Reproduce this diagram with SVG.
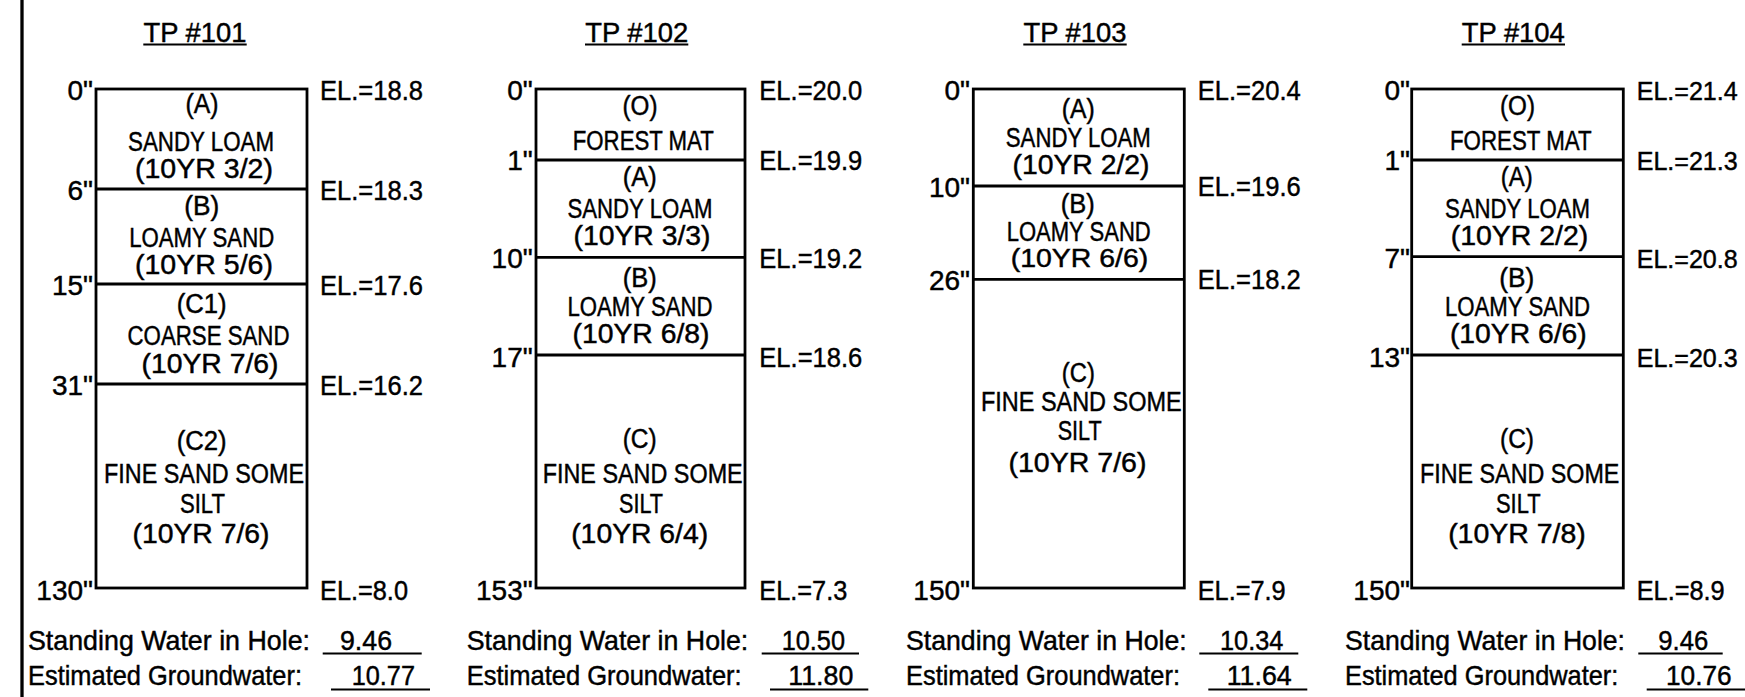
<svg xmlns="http://www.w3.org/2000/svg" width="1745" height="697" viewBox="0 0 1745 697">
<style>
.t{font-family:"Liberation Sans",Arial,sans-serif;font-size:28px;fill:#000;stroke:#000;stroke-width:0.45}
.b{font-size:27px}
.s{font-size:26.5px}
.m{text-anchor:middle}
.e{text-anchor:end}
.ln{stroke:#000;stroke-width:2.8;fill:none}
.ul{stroke:#000;stroke-width:2;fill:none}
</style>
<rect x="0" y="0" width="1745" height="697" fill="#fff"/>
<line class="ln" x1="22" y1="0" x2="22" y2="697" style="stroke-width:3.3"/>

<g id="tp101">
<text class="t m" x="195" y="41.5" textLength="103" lengthAdjust="spacingAndGlyphs">TP #101</text>
<line class="ul" x1="143.3" y1="44.5" x2="246.7" y2="44.5"/>
<rect class="ln" x="96" y="89" width="211" height="499"/>
<line class="ln" x1="96" y1="189" x2="307" y2="189"/>
<line class="ln" x1="96" y1="284" x2="307" y2="284"/>
<line class="ln" x1="96" y1="384" x2="307" y2="384"/>
<text class="t e" x="93" y="100">0"</text>
<text class="t e" x="93" y="200">6"</text>
<text class="t e" x="93" y="295">15"</text>
<text class="t e" x="93" y="394.5">31"</text>
<text class="t e" x="93" y="599.5">130"</text>
<text class="t" x="320" y="99.5" textLength="103" lengthAdjust="spacingAndGlyphs">EL.=18.8</text>
<text class="t" x="320" y="200" textLength="103" lengthAdjust="spacingAndGlyphs">EL.=18.3</text>
<text class="t" x="320" y="295" textLength="103" lengthAdjust="spacingAndGlyphs">EL.=17.6</text>
<text class="t" x="320" y="394.5" textLength="103" lengthAdjust="spacingAndGlyphs">EL.=16.2</text>
<text class="t" x="320" y="599.5" textLength="88" lengthAdjust="spacingAndGlyphs">EL.=8.0</text>
<text class="t b m" x="202" y="113" textLength="33" lengthAdjust="spacingAndGlyphs">(A)</text>
<text class="t b m" x="201" y="150.7" textLength="146" lengthAdjust="spacingAndGlyphs">SANDY LOAM</text>
<text class="t b m" x="204" y="178" textLength="138" lengthAdjust="spacingAndGlyphs">(10YR 3/2)</text>
<text class="t b m" x="201.7" y="215" textLength="35" lengthAdjust="spacingAndGlyphs">(B)</text>
<text class="t b m" x="201.7" y="247" textLength="145" lengthAdjust="spacingAndGlyphs">LOAMY SAND</text>
<text class="t b m" x="204" y="274" textLength="138" lengthAdjust="spacingAndGlyphs">(10YR 5/6)</text>
<text class="t b m" x="201.7" y="313" textLength="50" lengthAdjust="spacingAndGlyphs">(C1)</text>
<text class="t b m" x="208.5" y="345" textLength="162" lengthAdjust="spacingAndGlyphs">COARSE SAND</text>
<text class="t b m" x="210" y="373" textLength="137" lengthAdjust="spacingAndGlyphs">(10YR 7/6)</text>
<text class="t b m" x="201.7" y="450" textLength="50" lengthAdjust="spacingAndGlyphs">(C2)</text>
<text class="t b m" x="204" y="482.7" textLength="200" lengthAdjust="spacingAndGlyphs">FINE SAND SOME</text>
<text class="t b m" x="202.5" y="512.7" textLength="45" lengthAdjust="spacingAndGlyphs">SILT</text>
<text class="t b m" x="201" y="543" textLength="137" lengthAdjust="spacingAndGlyphs">(10YR 7/6)</text>
<text class="t" x="28" y="650" textLength="282" lengthAdjust="spacingAndGlyphs">Standing Water in Hole:</text>
<text class="t" x="340" y="650" textLength="52" lengthAdjust="spacingAndGlyphs">9.46</text>
<line class="ul" x1="322.7" y1="653.5" x2="421.7" y2="653.5"/>
<text class="t" x="28" y="685" textLength="274" lengthAdjust="spacingAndGlyphs">Estimated Groundwater:</text>
<text class="t" x="351.7" y="685" textLength="63.3" lengthAdjust="spacingAndGlyphs">10.77</text>
<line class="ul" x1="331" y1="689.5" x2="430" y2="689.5"/>
</g>

<g id="tp102">
<text class="t m" x="636.7" y="41.5" textLength="103" lengthAdjust="spacingAndGlyphs">TP #102</text>
<line class="ul" x1="585" y1="44.5" x2="688.3" y2="44.5"/>
<rect class="ln" x="536" y="89" width="209" height="499"/>
<line class="ln" x1="536" y1="160" x2="745" y2="160"/>
<line class="ln" x1="536" y1="257.3" x2="745" y2="257.3"/>
<line class="ln" x1="536" y1="355" x2="745" y2="355"/>
<text class="t e" x="532.7" y="100">0"</text>
<text class="t e" x="532.7" y="170">1"</text>
<text class="t e" x="532.7" y="268">10"</text>
<text class="t e" x="532.7" y="366.7">17"</text>
<text class="t e" x="532.7" y="599.5">153"</text>
<text class="t" x="759.3" y="99.5" textLength="103" lengthAdjust="spacingAndGlyphs">EL.=20.0</text>
<text class="t" x="759.3" y="170" textLength="103" lengthAdjust="spacingAndGlyphs">EL.=19.9</text>
<text class="t" x="759.3" y="267.7" textLength="103" lengthAdjust="spacingAndGlyphs">EL.=19.2</text>
<text class="t" x="759.3" y="366.7" textLength="103" lengthAdjust="spacingAndGlyphs">EL.=18.6</text>
<text class="t" x="759.3" y="599.5" textLength="88" lengthAdjust="spacingAndGlyphs">EL.=7.3</text>
<text class="t b m" x="640" y="115" textLength="35" lengthAdjust="spacingAndGlyphs">(O)</text>
<text class="t b m" x="643.3" y="150" textLength="141" lengthAdjust="spacingAndGlyphs">FOREST MAT</text>
<text class="t b m" x="639.7" y="186" textLength="34" lengthAdjust="spacingAndGlyphs">(A)</text>
<text class="t b m" x="640" y="218.3" textLength="145" lengthAdjust="spacingAndGlyphs">SANDY LOAM</text>
<text class="t b m" x="642" y="245" textLength="137" lengthAdjust="spacingAndGlyphs">(10YR 3/3)</text>
<text class="t b m" x="639.7" y="286.7" textLength="34" lengthAdjust="spacingAndGlyphs">(B)</text>
<text class="t b m" x="640" y="316" textLength="145" lengthAdjust="spacingAndGlyphs">LOAMY SAND</text>
<text class="t b m" x="641" y="343.3" textLength="137" lengthAdjust="spacingAndGlyphs">(10YR 6/8)</text>
<text class="t b m" x="639.7" y="448.3" textLength="34" lengthAdjust="spacingAndGlyphs">(C)</text>
<text class="t b m" x="642.7" y="482.7" textLength="200" lengthAdjust="spacingAndGlyphs">FINE SAND SOME</text>
<text class="t b m" x="641" y="512.7" textLength="44" lengthAdjust="spacingAndGlyphs">SILT</text>
<text class="t b m" x="639.7" y="543.3" textLength="137" lengthAdjust="spacingAndGlyphs">(10YR 6/4)</text>
<text class="t" x="466.7" y="650" textLength="281.6" lengthAdjust="spacingAndGlyphs">Standing Water in Hole:</text>
<text class="t" x="781.7" y="650" textLength="63.3" lengthAdjust="spacingAndGlyphs">10.50</text>
<line class="ul" x1="761.7" y1="653.5" x2="859" y2="653.5"/>
<text class="t" x="466.7" y="685" textLength="275" lengthAdjust="spacingAndGlyphs">Estimated Groundwater:</text>
<text class="t" x="788.3" y="685" textLength="65" lengthAdjust="spacingAndGlyphs">11.80</text>
<line class="ul" x1="770" y1="689.5" x2="868.3" y2="689.5"/>
</g>

<g id="tp103">
<text class="t m" x="1075" y="41.5" textLength="103" lengthAdjust="spacingAndGlyphs">TP #103</text>
<line class="ul" x1="1023.3" y1="44.5" x2="1126.7" y2="44.5"/>
<rect class="ln" x="973.3" y="89" width="211" height="499"/>
<line class="ln" x1="973.3" y1="186" x2="1184.3" y2="186"/>
<line class="ln" x1="973.3" y1="279.3" x2="1184.3" y2="279.3"/>
<text class="t e" x="970" y="100">0"</text>
<text class="t e" x="970" y="197.3">10"</text>
<text class="t e" x="970" y="290">26"</text>
<text class="t e" x="970" y="599.5">150"</text>
<text class="t" x="1197.7" y="99.5" textLength="103" lengthAdjust="spacingAndGlyphs">EL.=20.4</text>
<text class="t" x="1197.7" y="196" textLength="103" lengthAdjust="spacingAndGlyphs">EL.=19.6</text>
<text class="t" x="1197.7" y="289.3" textLength="103" lengthAdjust="spacingAndGlyphs">EL.=18.2</text>
<text class="t" x="1197.7" y="599.5" textLength="88" lengthAdjust="spacingAndGlyphs">EL.=7.9</text>
<text class="t b m" x="1078.3" y="118" textLength="33" lengthAdjust="spacingAndGlyphs">(A)</text>
<text class="t b m" x="1078.3" y="146.7" textLength="145" lengthAdjust="spacingAndGlyphs">SANDY LOAM</text>
<text class="t b m" x="1081" y="174" textLength="137" lengthAdjust="spacingAndGlyphs">(10YR 2/2)</text>
<text class="t b m" x="1077.8" y="213.3" textLength="34" lengthAdjust="spacingAndGlyphs">(B)</text>
<text class="t b m" x="1078.7" y="241.2" textLength="144" lengthAdjust="spacingAndGlyphs">LOAMY SAND</text>
<text class="t m" style="font-size:25.5px" x="1079.5" y="267" textLength="137.6" lengthAdjust="spacingAndGlyphs">(10YR 6/6)</text>
<text class="t b m" x="1078.3" y="381.7" textLength="33" lengthAdjust="spacingAndGlyphs">(C)</text>
<text class="t b m" x="1081.3" y="411" textLength="200.7" lengthAdjust="spacingAndGlyphs">FINE SAND SOME</text>
<text class="t b m" x="1079.7" y="440" textLength="44" lengthAdjust="spacingAndGlyphs">SILT</text>
<text class="t b m" x="1077.5" y="471.7" textLength="138" lengthAdjust="spacingAndGlyphs">(10YR 7/6)</text>
<text class="t" x="906" y="650" textLength="280.7" lengthAdjust="spacingAndGlyphs">Standing Water in Hole:</text>
<text class="t" x="1220" y="650" textLength="63.3" lengthAdjust="spacingAndGlyphs">10.34</text>
<line class="ul" x1="1199.3" y1="653.5" x2="1298.3" y2="653.5"/>
<text class="t" x="906" y="685" textLength="274" lengthAdjust="spacingAndGlyphs">Estimated Groundwater:</text>
<text class="t" x="1226.7" y="685" textLength="65" lengthAdjust="spacingAndGlyphs">11.64</text>
<line class="ul" x1="1208.3" y1="689.5" x2="1307.3" y2="689.5"/>
</g>

<g id="tp104">
<text class="t m" x="1513.3" y="41.5" textLength="103" lengthAdjust="spacingAndGlyphs">TP #104</text>
<line class="ul" x1="1461.7" y1="44.5" x2="1565" y2="44.5"/>
<rect class="ln" x="1411.7" y="89" width="211.6" height="499"/>
<line class="ln" x1="1411.7" y1="160" x2="1623.3" y2="160"/>
<line class="ln" x1="1411.7" y1="256.7" x2="1623.3" y2="256.7"/>
<line class="ln" x1="1411.7" y1="355" x2="1623.3" y2="355"/>
<text class="t e" x="1410" y="100">0"</text>
<text class="t e" x="1410" y="170">1"</text>
<text class="t e" x="1410" y="268.3">7"</text>
<text class="t e" x="1410" y="366.7">13"</text>
<text class="t e" x="1410" y="599.5">150"</text>
<text class="t s" x="1636.7" y="99.5" textLength="101" lengthAdjust="spacingAndGlyphs">EL.=21.4</text>
<text class="t s" x="1636.7" y="170" textLength="101" lengthAdjust="spacingAndGlyphs">EL.=21.3</text>
<text class="t s" x="1636.7" y="267.7" textLength="101" lengthAdjust="spacingAndGlyphs">EL.=20.8</text>
<text class="t s" x="1636.7" y="366.7" textLength="101" lengthAdjust="spacingAndGlyphs">EL.=20.3</text>
<text class="t" x="1636.7" y="599.5" textLength="88" lengthAdjust="spacingAndGlyphs">EL.=8.9</text>
<text class="t b m" x="1517.5" y="115" textLength="35" lengthAdjust="spacingAndGlyphs">(O)</text>
<text class="t b m" x="1520.8" y="150" textLength="141.7" lengthAdjust="spacingAndGlyphs">FOREST MAT</text>
<text class="t b m" x="1516.7" y="186" textLength="32" lengthAdjust="spacingAndGlyphs">(A)</text>
<text class="t b m" x="1517.5" y="218.3" textLength="145" lengthAdjust="spacingAndGlyphs">SANDY LOAM</text>
<text class="t b m" x="1519.5" y="245" textLength="137.6" lengthAdjust="spacingAndGlyphs">(10YR 2/2)</text>
<text class="t b m" x="1516.7" y="286.7" textLength="35" lengthAdjust="spacingAndGlyphs">(B)</text>
<text class="t b m" x="1517.5" y="316" textLength="145" lengthAdjust="spacingAndGlyphs">LOAMY SAND</text>
<text class="t b m" x="1518.3" y="343.3" textLength="136.7" lengthAdjust="spacingAndGlyphs">(10YR 6/6)</text>
<text class="t b m" x="1517" y="448.3" textLength="34" lengthAdjust="spacingAndGlyphs">(C)</text>
<text class="t b m" x="1519.7" y="482.7" textLength="199.3" lengthAdjust="spacingAndGlyphs">FINE SAND SOME</text>
<text class="t b m" x="1518.3" y="512.7" textLength="44.7" lengthAdjust="spacingAndGlyphs">SILT</text>
<text class="t b m" x="1517" y="543.3" textLength="137.7" lengthAdjust="spacingAndGlyphs">(10YR 7/8)</text>
<text class="t" x="1345" y="650" textLength="280" lengthAdjust="spacingAndGlyphs">Standing Water in Hole:</text>
<text class="t" x="1658.3" y="650" textLength="50" lengthAdjust="spacingAndGlyphs">9.46</text>
<line class="ul" x1="1638.3" y1="653.5" x2="1722.7" y2="653.5"/>
<text class="t" x="1345" y="685" textLength="273.3" lengthAdjust="spacingAndGlyphs">Estimated Groundwater:</text>
<text class="t" x="1666" y="685" textLength="65.7" lengthAdjust="spacingAndGlyphs">10.76</text>
<line class="ul" x1="1646.7" y1="689.5" x2="1745" y2="689.5"/>
</g>
</svg>
